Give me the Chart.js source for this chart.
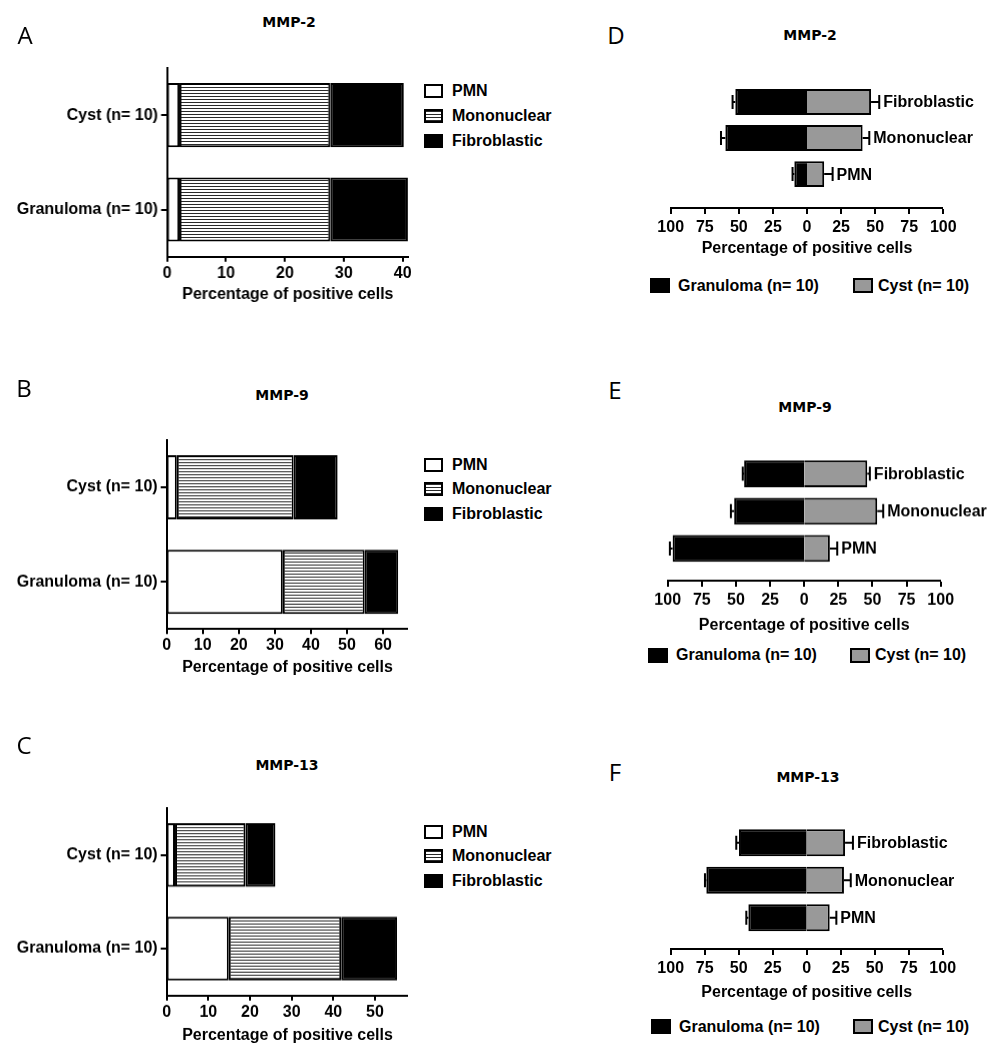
<!DOCTYPE html>
<html>
<head>
<meta charset="utf-8">
<script src="https://cdn.jsdelivr.net/npm/chart.js@4.4.1/dist/chart.umd.min.js"></script>
<style>
  html, body { margin: 0; padding: 0; background: #fff; }
  body { width: 994px; height: 1050px; position: relative; overflow: hidden; font-family: "Liberation Sans", Arial, sans-serif; color: #000; }
  .panel { position: absolute; }
  .letter { position: absolute; font-family: "Open Sans", "Noto Sans", sans-serif; font-size: 24px; line-height: 24px; transform: translate(-50%, -50%); }
  .ptitle { position: absolute; font-family: "DejaVu Sans", sans-serif; font-weight: bold; font-size: 14px; line-height: 16px; transform: translate(-50%, -50%); white-space: nowrap; }
  .leg { position: absolute; display: flex; align-items: center; white-space: nowrap; transform: translateY(-50%); }
  .sw { box-sizing: border-box; border: 2px solid #000; display: inline-block; }
</style>
</head>
<body>
<script>
// ---------------- DATA ----------------
const stackCategories = ['Cyst (n= 10)', 'Granuloma (n= 10)'];
const cellTypes = ['PMN', 'Mononuclear', 'Fibroblastic'];
const xAxisTitle = 'Percentage of positive cells';

// A: MMP-2 (stacked percentages) [Cyst, Granuloma]
const mmp2PMN   = [2.1, 2.1];
const mmp2Mono  = [25.6, 25.6];
const mmp2Fibro = [12.5, 13.2];
// B: MMP-9
const mmp9PMN   = [2.8, 32.2];
const mmp9Mono  = [32.4, 22.7];
const mmp9Fibro = [12.2, 9.3];
// C: MMP-13
const mmp13PMN   = [2.0, 14.9];
const mmp13Mono  = [16.9, 27.0];
const mmp13Fibro = [7.2, 13.4];

// D-F: diverging bars, categories top to bottom
const divCategories = ['Fibroblastic', 'Mononuclear', 'PMN'];
const groupNames = ['Granuloma (n= 10)', 'Cyst (n= 10)'];
const mmp2Gran = [52.6, 59.9, 9.3];  const mmp2GranErr = [2.0, 3.2, 1.3];
const mmp2Cyst = [47.0, 40.8, 12.6]; const mmp2CystErr = [6.0, 4.9, 6.2];
const mmp9Gran = [44.0, 51.3, 96.4]; const mmp9GranErr = [1.0, 2.4, 2.0];
const mmp9Cyst = [46.2, 53.5, 18.8]; const mmp9CystErr = [1.9, 4.4, 5.4];
const mmp13Gran = [49.8, 73.8, 42.9]; const mmp13GranErr = [2.0, 1.0, 1.5];
const mmp13Cyst = [28.2, 27.4, 16.9]; const mmp13CystErr = [5.8, 5.0, 4.9];

// ---------------- STYLE / LAYOUT ----------------
Chart.defaults.font.family = '"Liberation Sans", Arial, sans-serif';
Chart.defaults.color = '#000';
const FONT = '"Liberation Sans", Arial, sans-serif';

function hatchPattern() {
  const c = document.createElement('canvas');
  c.width = 4; c.height = 3;
  const g = c.getContext('2d');
  g.fillStyle = '#fff'; g.fillRect(0, 0, 4, 3);
  g.fillStyle = '#2a2a2a'; g.fillRect(0, 0, 4, 1);
  return g.createPattern(c, 'repeat');
}

function addDiv(cls, text, x, y, extra) {
  const d = document.createElement('div');
  d.className = cls; d.textContent = text;
  d.style.left = x + 'px'; d.style.top = y + 'px';
  if (extra) Object.assign(d.style, extra);
  document.body.appendChild(d);
  return d;
}

function makeCanvas(left, top, width, height) {
  const wrap = document.createElement('div');
  wrap.className = 'panel';
  Object.assign(wrap.style, { left: left + 'px', top: top + 'px', width: width + 'px', height: height + 'px' });
  const cv = document.createElement('canvas');
  wrap.appendChild(cv);
  document.body.appendChild(wrap);
  return cv;
}

function legendItem(x, y, label, swatchStyle, swW, swH, fontSize, gap) {
  const d = document.createElement('div');
  d.className = 'leg';
  d.style.left = x + 'px'; d.style.top = y + 'px';
  const sw = document.createElement('span');
  sw.className = 'sw';
  Object.assign(sw.style, { width: swW + 'px', height: swH + 'px' }, swatchStyle);
  const t = document.createElement('span');
  t.textContent = label;
  Object.assign(t.style, { fontWeight: 'bold', fontSize: fontSize + 'px', marginLeft: gap + 'px' });
  d.appendChild(sw); d.appendChild(t);
  document.body.appendChild(d);
}

const swatchStyles = [
  { background: '#fff' },
  { background: 'repeating-linear-gradient(to bottom, #2a2a2a 0px, #2a2a2a 1px, #fff 1px, #fff 3px)' },
  { background: '#000' }
];

// grid: no grid lines (lineWidth 0 so bars are not shifted off the zero line), black 2px tick marks
function axisGrid(tickLength, extra) {
  return Object.assign({ drawOnChartArea: false, tickLength: tickLength, lineWidth: 0, tickWidth: 2, tickColor: '#000', color: '#000' }, extra || {});
}

function stackedPanel(g, xMax, pmn, mono, fibro) {
  const top = g.top - 20;
  const bottom = g.axisTitleY + 20;
  const width = g.right + 14;
  const cv = makeCanvas(0, top, width, bottom - top);
  new Chart(cv, {
    type: 'bar',
    data: {
      labels: stackCategories,
      datasets: [
        { label: cellTypes[0], data: pmn, backgroundColor: '#fff' },
        { label: cellTypes[1], data: mono, backgroundColor: hatchPattern() },
        { label: cellTypes[2], data: fibro, backgroundColor: '#000' }
      ]
    },
    options: {
      indexAxis: 'y', responsive: true, maintainAspectRatio: false, animation: false,
      datasets: { bar: { borderColor: '#000', borderWidth: 2, borderSkipped: false, barPercentage: 0.68, categoryPercentage: 1, inflateAmount: 0 } },
      layout: { padding: { left: 0, top: 20, right: 14, bottom: 0 } },
      plugins: { legend: { display: false }, tooltip: { enabled: false } },
      scales: {
        x: {
          stacked: true, min: 0, max: xMax,
          ticks: { stepSize: 10, includeBounds: false, padding: 2, color: '#000', font: { size: 16, weight: 'bold', lineHeight: 1.2 } },
          grid: axisGrid(5),
          border: { color: '#000', width: 2 },
          title: { display: true, text: xAxisTitle, color: '#000', font: { size: 16, weight: 'bold', lineHeight: 1.2 }, padding: { top: 0, bottom: 10.4 } },
          afterFit: (s) => { s.height = bottom - g.bottom; }
        },
        y: {
          stacked: true,
          ticks: { padding: 3, color: '#000', font: { size: 16, weight: 'bold' } },
          grid: axisGrid(6, { offset: false }),
          border: { color: '#000', width: 2 },
          afterFit: (s) => { s.width = g.left; }
        }
      }
    }
  });
}

const errorBarPlugin = {
  id: 'errorBars',
  afterDatasetsDraw(chart, args, opts) {
    const ctx = chart.ctx;
    const xs = chart.scales.x;
    chart.data.datasets.forEach((ds, di) => {
      if (!ds.errors) return;
      const meta = chart.getDatasetMeta(di);
      meta.data.forEach((bar, i) => {
        const v = ds.data[i];
        const e = ds.errors[i];
        const sgn = v < 0 ? -1 : 1;
        const x0 = xs.getPixelForValue(v);
        const x1 = xs.getPixelForValue(v + sgn * e);
        const yc = bar.y;
        ctx.save();
        ctx.strokeStyle = '#000';
        ctx.lineWidth = 2;
        ctx.beginPath();
        ctx.moveTo(x0, yc); ctx.lineTo(x1, yc);
        ctx.moveTo(x1, yc - opts.cap); ctx.lineTo(x1, yc + opts.cap);
        ctx.stroke();
        if (ds.labelAtEnd) {
          ctx.fillStyle = '#000';
          ctx.font = 'bold 16px ' + FONT;
          ctx.textAlign = 'left';
          ctx.textBaseline = 'middle';
          ctx.fillText(chart.data.labels[i], x1 + 4, yc + 1);
        }
        ctx.restore();
      });
    });
  }
};

function divergingPanel(g, gran, granErr, cyst, cystErr) {
  const left = 630, top = g.top - 10, width = 364;
  const bottom = g.axisTitleY + 20;
  const cv = makeCanvas(left, top, width, bottom - top);
  new Chart(cv, {
    type: 'bar',
    data: {
      labels: divCategories,
      datasets: [
        { label: groupNames[0], data: gran.map(v => -v), errors: granErr, backgroundColor: '#000' },
        { label: groupNames[1], data: cyst, errors: cystErr, labelAtEnd: true, backgroundColor: '#999' }
      ]
    },
    plugins: [errorBarPlugin],
    options: {
      indexAxis: 'y', responsive: true, maintainAspectRatio: false, animation: false,
      datasets: { bar: { borderColor: '#000', borderWidth: 2, borderSkipped: 'start', barPercentage: 0.72, categoryPercentage: 1 } },
      layout: { padding: { left: g.left - left, top: 10, right: left + width - g.right, bottom: 0 } },
      plugins: { legend: { display: false }, tooltip: { enabled: false }, errorBars: { cap: 7 } },
      scales: {
        x: {
          stacked: true, min: -100, max: 100,
          ticks: { stepSize: 25, padding: 4, color: '#000', font: { size: 16, weight: 'bold', lineHeight: 1.2 }, callback: (v) => Math.abs(v) },
          grid: axisGrid(6),
          border: { color: '#000', width: 2 },
          title: { display: true, text: xAxisTitle, color: '#000', font: { size: 16, weight: 'bold', lineHeight: 1.2 }, padding: { top: 0, bottom: 10.4 } },
          afterFit: (s) => { s.height = bottom - g.bottom; }
        },
        y: {
          stacked: true, display: false,
          afterBuildTicks: (s) => { s._valueRange += g.ext; }
        }
      }
    }
  });
}

// ---------------- BUILD ----------------
const geomA = { left: 166.7, right: 407.5, top: 68, bottom: 256.7, axisTitleY: 295 };
const geomB = { left: 166.7, right: 408.3, top: 440, bottom: 628.3, axisTitleY: 666.7 };
const geomC = { left: 166.7, right: 408.3, top: 808.3, bottom: 995, axisTitleY: 1035 };
const geomD = { left: 670.7, right: 943.3, top: 84, bottom: 208, ext: 0.44, axisTitleY: 248.3 };
const geomE = { left: 667.7, right: 940.7, top: 455.1, bottom: 580, ext: 0.36, axisTitleY: 625 };
const geomF = { left: 670.7, right: 942.7, top: 824.3, bottom: 949.3, ext: 0.33, axisTitleY: 993.3 };

stackedPanel(geomA, 41, mmp2PMN, mmp2Mono, mmp2Fibro);
stackedPanel(geomB, 67, mmp9PMN, mmp9Mono, mmp9Fibro);
stackedPanel(geomC, 58, mmp13PMN, mmp13Mono, mmp13Fibro);
divergingPanel(geomD, mmp2Gran, mmp2GranErr, mmp2Cyst, mmp2CystErr);
divergingPanel(geomE, mmp9Gran, mmp9GranErr, mmp9Cyst, mmp9CystErr);
divergingPanel(geomF, mmp13Gran, mmp13GranErr, mmp13Cyst, mmp13CystErr);

// panel letters and titles
[['A', 25, 35], ['B', 24, 388], ['C', 24, 745], ['D', 616, 35], ['E', 615, 390], ['F', 615, 772]]
  .forEach(([t, x, y]) => addDiv('letter', t, x, y));
[['MMP-2', 289, 22], ['MMP-9', 282, 395], ['MMP-13', 287, 765], ['MMP-2', 810, 35], ['MMP-9', 805, 407], ['MMP-13', 808, 777]]
  .forEach(([t, x, y]) => addDiv('ptitle', t, x, y));

// legends for stacked panels
[[91, 116, 141], [464.5, 488.5, 513.5], [831.5, 855.5, 880.5]].forEach(rows => {
  rows.forEach((y, i) => legendItem(424, y, cellTypes[i], swatchStyles[i], 19, 14, 16, 9));
});
// legends for diverging panels
[[650, 853, 285.5], [648, 850, 655], [651, 853, 1026.5]].forEach(([x1, x2, y]) => {
  legendItem(x1, y, groupNames[0], { background: '#000' }, 20, 15, 16, 8);
  legendItem(x2, y, groupNames[1], { background: '#999' }, 20, 15, 16, 5);
});
</script>
</body>
</html>
